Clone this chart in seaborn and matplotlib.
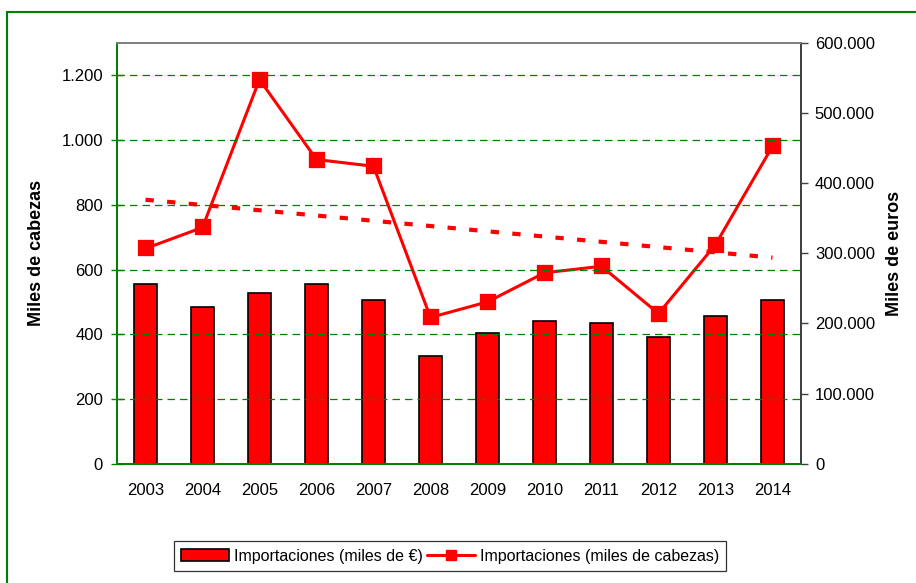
import numpy as np
import matplotlib
matplotlib.use("Agg")
import matplotlib.pyplot as plt
import seaborn as sns
from matplotlib.lines import Line2D
from matplotlib.patches import Patch
from matplotlib.ticker import FuncFormatter, FixedLocator

years = ["2003", "2004", "2005", "2006", "2007", "2008",
         "2009", "2010", "2011", "2012", "2013", "2014"]
# miles de cabezas (left axis, line)
cabezas = [665, 730, 1187, 940, 919, 452, 500, 590, 610, 464, 677, 981]
# miles de euros (right axis, bars)
euros = [256000, 223000, 243000, 256000, 234000, 153000,
         186000, 203000, 201000, 181000, 210000, 234000]

label_bar = "Importaciones (miles de €)"
label_line = "Importaciones (miles de cabezas)"

sns.set_style("white")
plt.rcParams["font.family"] = ["Liberation Sans", "DejaVu Sans"]
plt.rcParams["text.color"] = "black"
plt.rcParams["axes.labelcolor"] = "black"
plt.rcParams["xtick.labelcolor"] = "black"
plt.rcParams["ytick.labelcolor"] = "black"

fig = plt.figure(figsize=(9.16, 5.83), dpi=100)
ax = fig.add_axes([117 / 916, 1 - 463.7 / 583, (801 - 117) / 916, (463.7 - 43) / 583])
ax2 = ax.twinx()

red = "#FF0000"
green = "#008000"

# bars on the right axis (euros)
sns.barplot(x=years, y=euros, ax=ax2, color=red, width=0.41,
            edgecolor="black", linewidth=1.2, saturation=1)

# line on the left axis (cabezas), drawn in front
ax.set_zorder(ax2.get_zorder() + 1)
ax.patch.set_visible(False)
sns.regplot(x=np.arange(len(years)), y=np.array(cabezas), ax=ax, scatter=False,
            ci=None, color=red, line_kws={"lw": 3, "ls": (0, (2, 3.2))})
sns.pointplot(x=years, y=cabezas, ax=ax, color=red, marker="s",
              markersize=10, linewidth=2.2)

ax.set_xlim(-0.5, len(years) - 0.5)
ax.set_ylim(0, 1300)
ax2.set_ylim(0, 600000)

fmt = FuncFormatter(lambda v, p: f"{v:,.0f}".replace(",", "."))
ax.set_yticks(range(0, 1201, 200))
ax.yaxis.set_major_formatter(fmt)
ax2.set_yticks(range(0, 600001, 100000))
ax2.yaxis.set_major_formatter(fmt)

ax.set_xticks(range(len(years)))
ax.set_xticklabels(years)
ax.xaxis.set_minor_locator(FixedLocator(np.arange(-0.5, len(years), 1)))
ax.tick_params(axis="x", which="major", length=0, labelsize=12, pad=14)
ax.tick_params(axis="x", which="minor", length=8, direction="inout", color=green, width=1)
ax.tick_params(axis="y", length=8, direction="inout", color=green, width=1, labelsize=12, pad=6)
ax2.tick_params(axis="y", length=5, direction="out", color="#404040", width=1, labelsize=12, pad=5)
ax2.tick_params(axis="x", length=0)
ax.set_xlabel("")
ax2.set_xlabel("")

ax.yaxis.grid(True, color=green, linestyle=(0, (6, 4)), linewidth=0.9)
ax.set_axisbelow(False)
for line in ax.get_ygridlines():
    line.set_zorder(0.5)

ax.set_ylabel("Miles de cabezas", fontsize=13, fontweight="bold", labelpad=12)
ax2.set_ylabel("Miles de euros", fontsize=13, fontweight="bold", labelpad=8)

for a in (ax, ax2):
    a.spines["left"].set_color(green)
    a.spines["bottom"].set_color(green)
    a.spines["top"].set_color("#808080")
    a.spines["right"].set_color("#404040")
    for s in a.spines.values():
        s.set_linewidth(1.3)

handles = [Patch(facecolor=red, edgecolor="black", linewidth=1.2),
           Line2D([], [], color=red, marker="s", markersize=7, linewidth=2.2)]
leg = fig.legend(handles, [label_bar, label_line], loc="center",
                 bbox_to_anchor=(450 / 916, 1 - 556 / 583), ncol=2, frameon=True,
                 fontsize=11.5, handlelength=3.0, handletextpad=0.3, columnspacing=0.3,
                 fancybox=False, borderpad=0.45, borderaxespad=0.2)
leg.get_frame().set_edgecolor("black")
leg.get_frame().set_linewidth(0.9)

# outer chart border (left and top visible)
fig.add_artist(Line2D([7 / 916, 7 / 916], [0, 1 - 12 / 583], color=green, lw=1.5,
                      transform=fig.transFigure))
fig.add_artist(Line2D([7 / 916, 1], [1 - 12 / 583, 1 - 12 / 583], color=green, lw=1.5,
                      transform=fig.transFigure))

fig.savefig("out.png", dpi=100)
